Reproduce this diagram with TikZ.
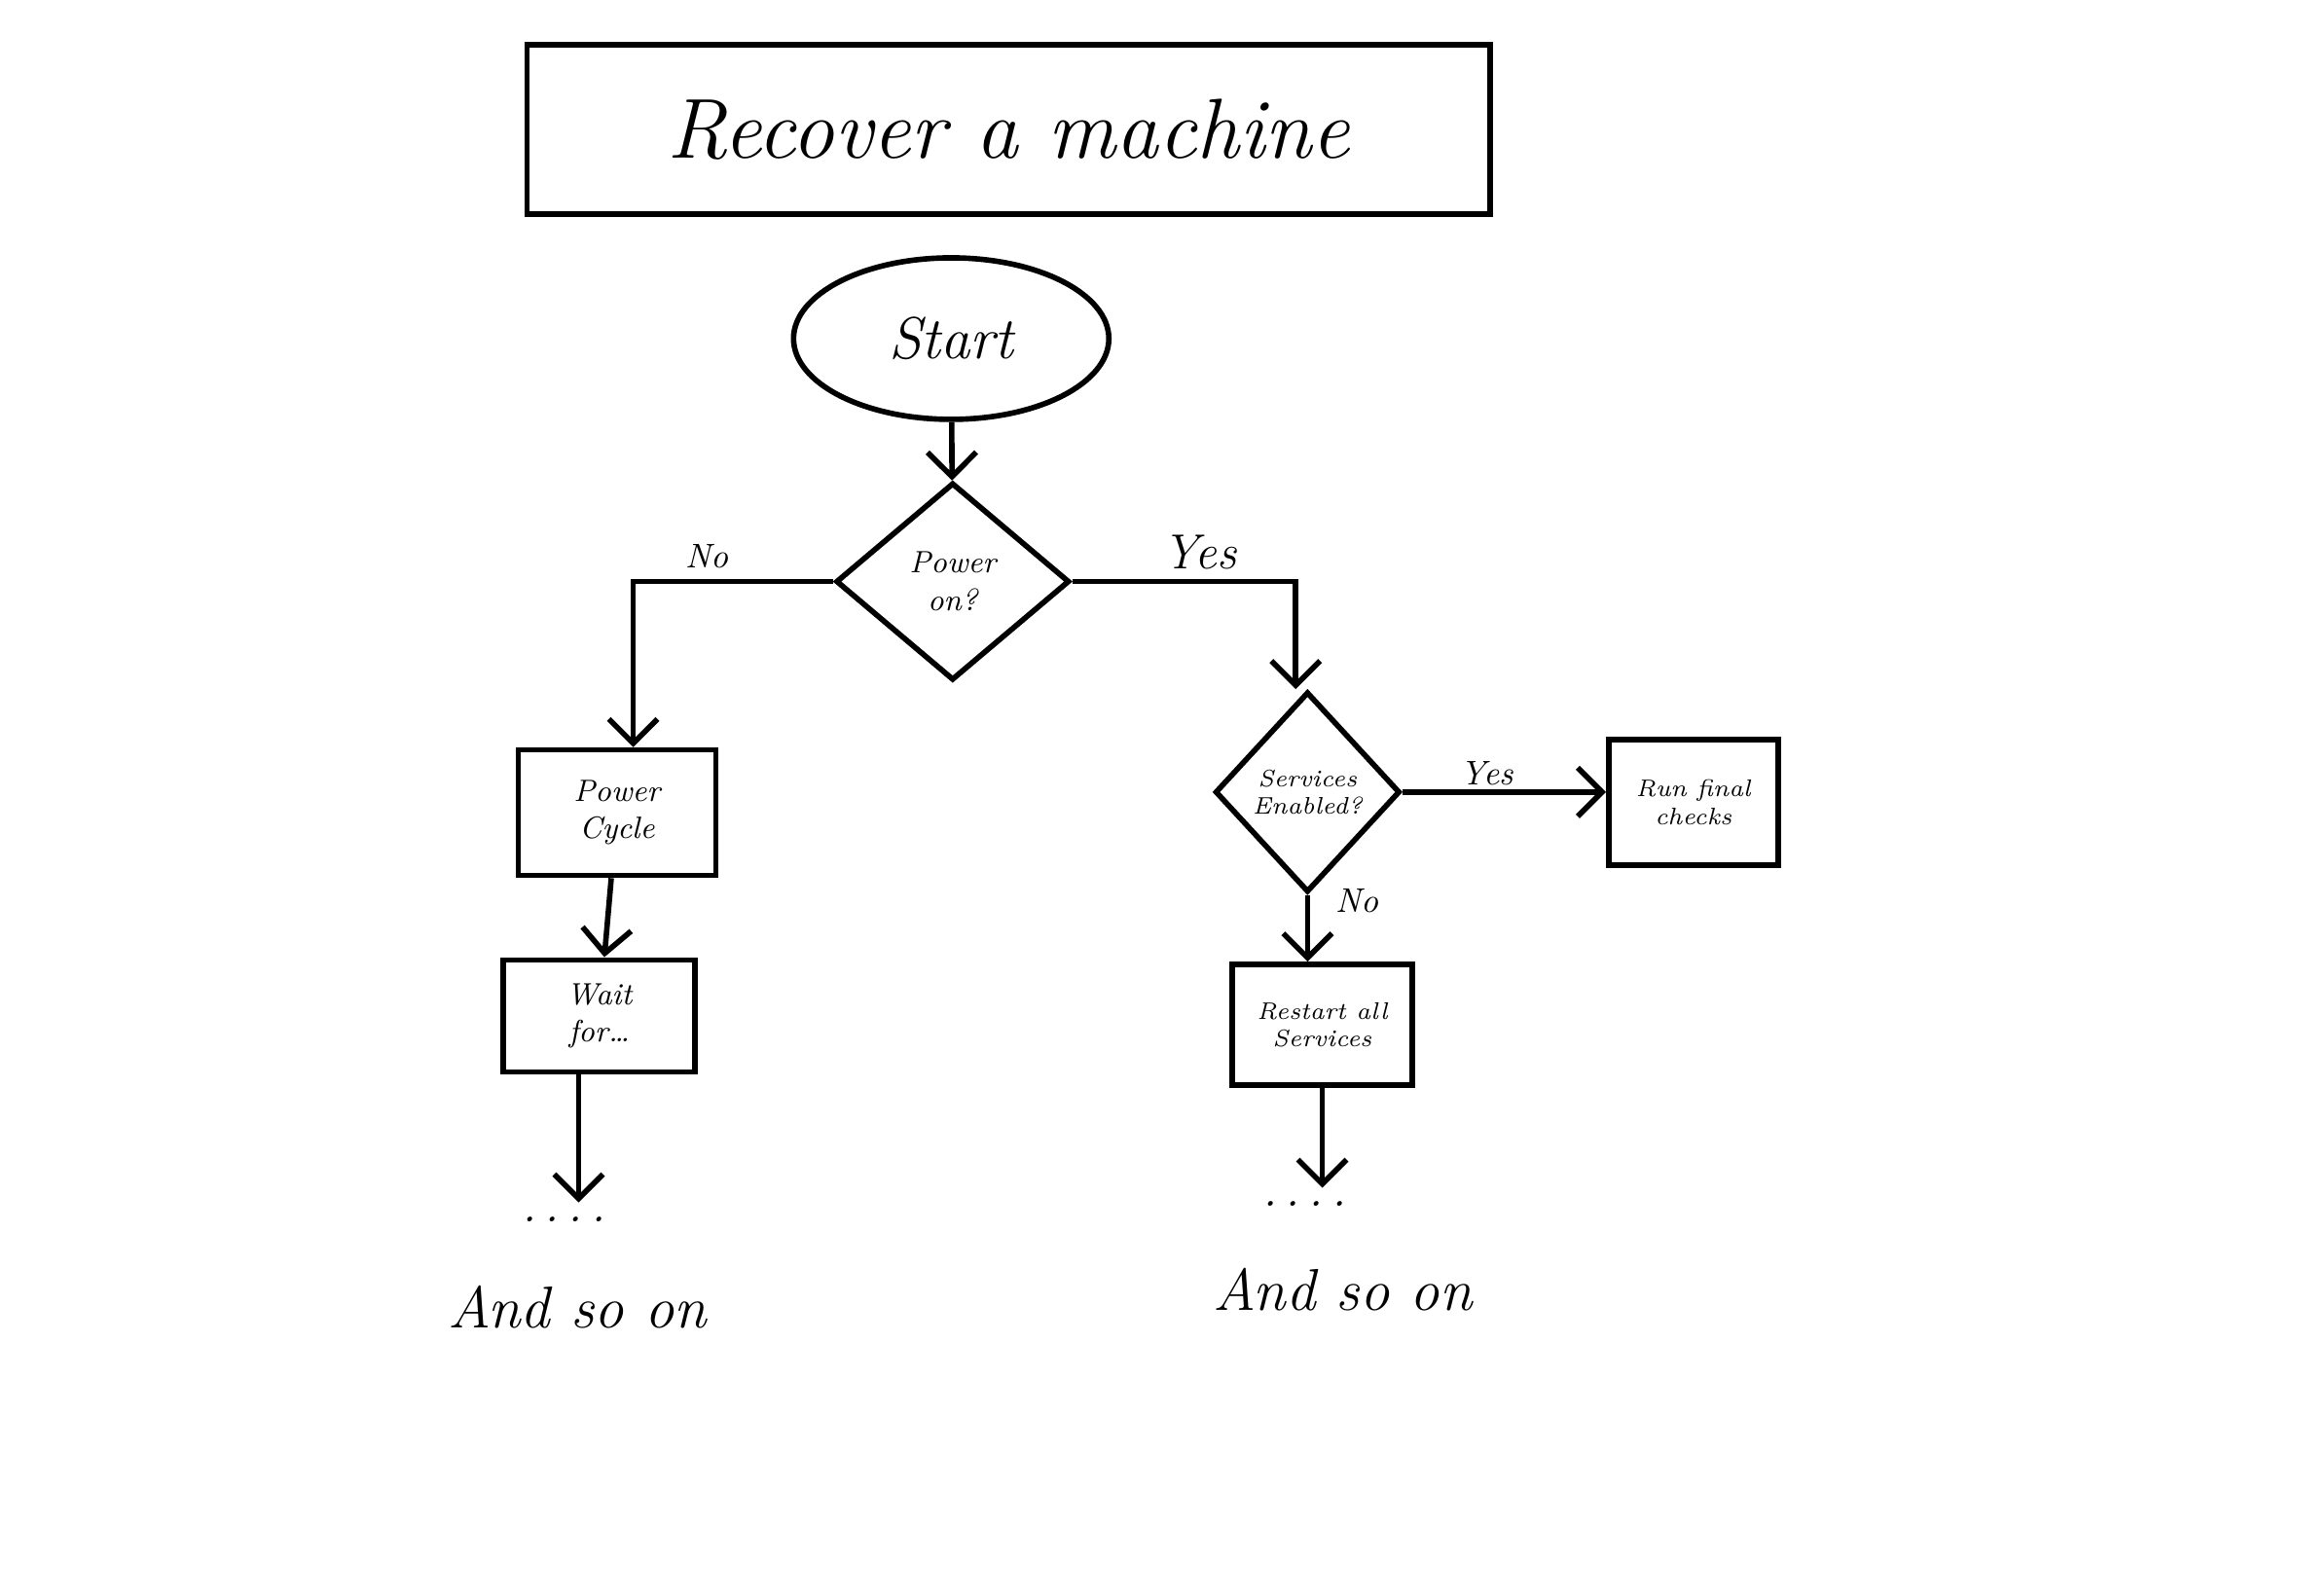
\documentclass[tikz,border=0pt]{standalone}
\usetikzlibrary{shapes.geometric,arrows.meta}
\begin{document}
\begin{tikzpicture}[x=0.1513mm,y=-0.1513mm,
  line width=1.6pt,
  box/.style={draw,rectangle,align=center,font=\itshape\small},
  decision/.style={draw,diamond,align=center,font=\itshape\small,inner sep=0pt},
  flow/.style={-{Straight Barb[length=2.5mm,width=5mm]}},
  hand/.style={font=\itshape}]

\useasboundingbox (0,0) rectangle (1560,1084);

% Nodes
    \node[box, minimum width=9.9cm, minimum height=1.74cm, font=\itshape\Huge] (title) at (685,88) {Recover a machine};
    \node[draw, ellipse, minimum width=3.24cm, minimum height=1.66cm, font=\itshape\LARGE] (start) at (646,230) {Start};
    \node[decision, minimum width=2.4cm, minimum height=2.03cm] (power) at (647,395) {Power\\on?};
    \node[box, minimum width=2.03cm, minimum height=1.29cm] (cycle) at (419,552) {Power\\Cycle};
    \node[box, minimum width=1.97cm, minimum height=1.15cm] (wait) at (407,690) {Wait\\for\dots};
    \node[decision, minimum width=1.9cm, minimum height=2.06cm, font=\itshape\scriptsize] (enabled) at (888,538) {Services\\Enabled?};
    \node[box, minimum width=1.74cm, minimum height=1.29cm, font=\itshape\scriptsize] (final) at (1150,545) {Run final\\checks};
    \node[box, minimum width=1.85cm, minimum height=1.24cm, font=\itshape\scriptsize] (restart) at (898,696) {Restart all\\Services};
    \node[hand, font=\itshape\Large] (dotsL) at (383,828) {.\,.\,.\,.};
    \node[hand, font=\itshape\LARGE] (moreL) at (392,888) {And so on};
    \node[hand, font=\itshape\Large] (dotsR) at (886,818) {.\,.\,.\,.};
    \node[hand, font=\itshape\LARGE] (moreR) at (912,876) {And so on};
    \coordinate (bendL) at (430,395);
    \coordinate (bendR) at (880,395);

% Directions
    \draw[flow] (start) -- (power);
    \draw[flow] (power.west) -- (bendL) -- (cycle.north -| bendL);
    \draw[flow] (power.east) -- (bendR) -- (enabled.north -| bendR);
    \draw[flow] (cycle) -- (wait);
    \draw[flow] (wait.south -| dotsL) ++(10,0) coordinate (w) (w) -- (dotsL.north -| w);
    \draw[flow] (enabled.east) -- (final.west |- enabled.east);
    \draw[flow] (enabled.south) -- (restart.north -| enabled.south);
    \draw[flow] (restart) -- (dotsR.north -| restart);

% Edge labels
    \node[hand] at (480,378) {No};
    \node[hand, font=\itshape\Large] at (815,375) {Yes};
    \node[hand] at (1010,525) {Yes};
    \node[hand] at (922,612) {No};

\end{tikzpicture}
\end{document}
